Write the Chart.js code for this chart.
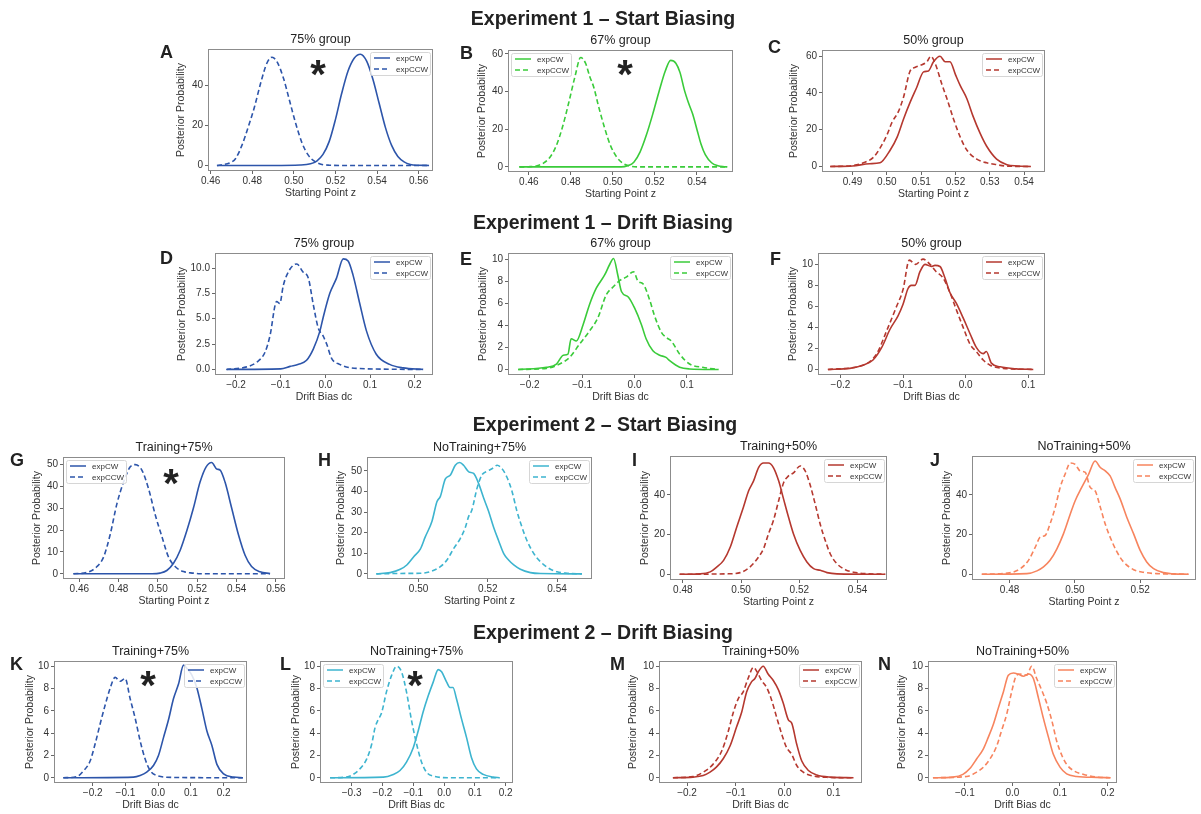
<!DOCTYPE html>
<html>
<head>
<meta charset="utf-8">
<script src="https://cdn.jsdelivr.net/npm/chart.js@4.4.0/dist/chart.umd.min.js"></script>
<style>
  html, body { margin: 0; padding: 0; background: #fff; overflow: hidden; }
  #fig { position: relative; width: 1201px; height: 814px; font-family: "Liberation Sans", Arial, sans-serif; color: #222; }
  #fig canvas { position: absolute; }
  .txt { position: absolute; line-height: 1; white-space: nowrap; }
</style>
</head>
<body>
<div id="fig"></div>
<script>
// ---- data (x = parameter value, y = posterior density) ----
// A: Exp 1 start bias, 75% group
const aCwX = [0.463, 0.490, 0.503, 0.508, 0.511, 0.514, 0.517, 0.520, 0.523, 0.526, 0.529, 0.532, 0.535, 0.538, 0.541, 0.544, 0.547, 0.550, 0.553, 0.556, 0.559, 0.565];
const aCwY = [0, 0, 0.2, 0.8, 2.2, 5.5, 12, 23, 36, 47, 53.5, 55.5, 52, 43, 31, 19, 10, 4.5, 1.8, 0.5, 0.1, 0];
const aCcwX = [0.463, 0.466, 0.469, 0.472, 0.475, 0.478, 0.481, 0.484, 0.487, 0.4895, 0.492, 0.495, 0.498, 0.501, 0.504, 0.507, 0.510, 0.513, 0.517, 0.522, 0.565];
const aCcwY = [0, 0.4, 1.2, 3.5, 10, 19, 29, 41, 51, 54, 51.5, 43.5, 32, 20.5, 11, 5, 2, 0.6, 0.1, 0, 0];
// B: Exp 1 start bias, 67% group
const bCwX = [0.4555, 0.504, 0.507, 0.510, 0.513, 0.516, 0.519, 0.522, 0.525, 0.5275, 0.530, 0.532, 0.534, 0.536, 0.538, 0.540, 0.542, 0.544, 0.547, 0.550, 0.553, 0.5545];
const bCwY = [0, 0, 0.6, 2.5, 8, 17, 28, 40, 51, 56.5, 55, 50, 41, 34, 28, 20, 12, 6.5, 2.2, 0.6, 0.1, 0];
const bCcwX = [0.4555, 0.460, 0.464, 0.467, 0.470, 0.473, 0.476, 0.479, 0.482, 0.4847, 0.487, 0.489, 0.491, 0.493, 0.496, 0.499, 0.502, 0.505, 0.508, 0.512, 0.5545];
const bCcwY = [0, 0.1, 0.6, 2, 5, 11, 21, 34, 48, 58, 55, 48, 42, 33, 21, 11, 5, 1.8, 0.5, 0, 0];
// C: Exp 1 start bias, 50% group
const cCwX = [0.4835, 0.490, 0.495, 0.498, 0.501, 0.503, 0.5049, 0.5068, 0.5087, 0.5107, 0.5121, 0.5136, 0.5155, 0.517, 0.5184, 0.520, 0.5214, 0.5233, 0.5252, 0.5272, 0.5291, 0.532, 0.535, 0.538, 0.542];
const cCwY = [0, 0.3, 1.5, 2, 9, 16, 26, 35, 43, 51.5, 52, 57, 60, 57, 57, 50, 44, 37, 27, 18, 11, 4, 1, 0.3, 0];
const cCcwX = [0.4835, 0.490, 0.4932, 0.4961, 0.498, 0.500, 0.5015, 0.5034, 0.5049, 0.5068, 0.5083, 0.5097, 0.5117, 0.5128, 0.5141, 0.516, 0.5175, 0.5194, 0.5214, 0.5233, 0.5262, 0.5291, 0.532, 0.535, 0.542];
const cCcwY = [0, 0.5, 2, 5, 10, 17, 24, 30, 38, 52, 54, 55, 57, 60, 56, 45, 37, 26, 16, 9, 4, 2, 1, 0.2, 0];
// D: Exp 1 drift bias, 75% group
const dCwX = [-0.22, -0.1, -0.079, -0.06, -0.042, -0.027, -0.012, -0.005, 0.01, 0.025, 0.04, 0.051, 0.062, 0.077, 0.092, 0.114, 0.144, 0.174, 0.219];
const dCwY = [0, 0.05, 0.3, 0.5, 0.9, 2.0, 3.8, 5.1, 7.5, 9, 10.9, 10.7, 9.3, 6.5, 3.8, 1.5, 0.5, 0.15, 0];
const dCcwX = [-0.222, -0.176, -0.154, -0.135, -0.124, -0.109, -0.102, -0.094, -0.079, -0.064, -0.05, -0.038, -0.027, -0.016, -0.005, 0.003, 0.014, 0.032, 0.07, 0.219];
const dCcwY = [0, 0.25, 0.7, 1.7, 3.3, 6.7, 6.5, 8.3, 9.9, 10.4, 9.6, 9.0, 6.4, 4.1, 3.3, 2.5, 1.1, 0.5, 0.1, 0];
// E: Exp 1 drift bias, 67% group
const eCwX = [-0.222, -0.168, -0.149, -0.136, -0.127, -0.121, -0.111, -0.098, -0.086, -0.073, -0.057, -0.047, -0.04, -0.032, -0.025, -0.012, 0.0, 0.013, 0.022, 0.035, 0.048, 0.06, 0.067, 0.086, 0.105, 0.16];
const eCwY = [0, 0.2, 0.5, 1.3, 1.4, 2.8, 2.6, 4.1, 5.9, 7.4, 8.6, 9.6, 10.1, 8.6, 7.1, 6.6, 5.6, 4.1, 2.8, 1.7, 1.3, 1.1, 0.8, 0.2, 0.05, 0];
const eCcwX = [-0.222, -0.168, -0.143, -0.124, -0.105, -0.086, -0.07, -0.054, -0.041, -0.028, -0.016, -0.002, 0.007, 0.016, 0.029, 0.038, 0.051, 0.061, 0.07, 0.086, 0.105, 0.13, 0.16];
const eCcwY = [0, 0.1, 0.5, 1.1, 2.3, 3.5, 4.7, 6.8, 7.5, 8.1, 8.4, 8.9, 8.0, 7.8, 6.3, 4.9, 3.4, 2.9, 2.6, 1.4, 0.5, 0.2, 0];
// F: Exp 1 drift bias, 50% group
const fCwX = [-0.22, -0.185, -0.164, -0.148, -0.134, -0.121, -0.108, -0.1, -0.092, -0.087, -0.081, -0.073, -0.065, -0.055, -0.049, -0.041, -0.033, -0.025, -0.015, -0.004, 0.007, 0.017, 0.028, 0.033, 0.041, 0.055, 0.081, 0.108];
const fCwY = [0, 0.1, 0.4, 0.9, 2.1, 3.8, 5.1, 6.2, 7.7, 8.0, 8.0, 9.3, 10.0, 9.8, 9.9, 9.8, 8.7, 7.3, 6.3, 4.9, 3.4, 2.1, 1.5, 1.7, 0.6, 0.25, 0.05, 0];
const fCcwX = [-0.22, -0.164, -0.142, -0.126, -0.111, -0.1, -0.09, -0.08, -0.068, -0.057, -0.047, -0.036, -0.025, -0.015, -0.004, 0.007, 0.017, 0.028, 0.039, 0.06, 0.108];
const fCcwY = [0, 0.4, 1.5, 3.7, 5.9, 7.6, 10.4, 10.0, 10.5, 10.0, 9.3, 8.7, 7.3, 5.7, 4.0, 2.4, 1.7, 0.9, 0.4, 0.1, 0];
// G: Exp 2 start bias, Training+75%
const gCwX = [0.457, 0.497, 0.5011, 0.5045, 0.5079, 0.5113, 0.5147, 0.518, 0.5214, 0.5245, 0.5273, 0.5299, 0.5316, 0.5341, 0.5375, 0.5409, 0.5443, 0.5476, 0.5519, 0.557];
const gCwY = [0, 0, 0.3, 1.5, 4.8, 10.8, 19.8, 30, 42, 49, 51, 48, 47.5, 42, 30, 18, 8.5, 3.3, 0.9, 0.1];
const gCcwX = [0.457, 0.4639, 0.469, 0.4724, 0.4757, 0.4791, 0.4825, 0.4859, 0.4884, 0.4918, 0.4952, 0.4986, 0.502, 0.5053, 0.5087, 0.513, 0.518, 0.5214, 0.557];
const gCcwY = [0, 0.6, 3.3, 7.8, 18, 32, 42, 49, 50, 47.5, 39, 27, 17, 7.8, 3.3, 1, 0.3, 0, 0];
// H: Exp 2 start bias, NoTraining+75%
const hCwX = [0.4878, 0.4918, 0.4947, 0.4966, 0.4986, 0.5005, 0.5019, 0.5039, 0.5053, 0.5063, 0.5077, 0.5092, 0.5106, 0.5119, 0.513, 0.5145, 0.5159, 0.5173, 0.5188, 0.5202, 0.5217, 0.5231, 0.5246, 0.526, 0.5275, 0.5294, 0.5323, 0.5352, 0.5472];
const hCwY = [0, 0.6, 2.2, 4.3, 8.3, 12, 17.8, 25.7, 35, 37.6, 46, 48, 52.7, 54, 52.7, 49.5, 48.7, 44, 36.8, 30.5, 22.5, 16.2, 9.8, 6.7, 4.3, 2.2, 0.6, 0.15, 0];
const hCcwX = [0.4878, 0.4947, 0.5005, 0.5034, 0.5063, 0.5082, 0.5101, 0.512, 0.5135, 0.5145, 0.5154, 0.5169, 0.5183, 0.5198, 0.5212, 0.5227, 0.5241, 0.5255, 0.527, 0.5284, 0.5299, 0.5313, 0.5333, 0.5352, 0.5376, 0.54, 0.5429, 0.5472];
const hCcwY = [0, 0.2, 0.3, 1.1, 3.5, 6.7, 12.2, 17, 22.5, 28, 31, 41.6, 48, 49.8, 51, 52.7, 51, 47, 40, 30.5, 22.5, 16.2, 9.8, 5.9, 2.7, 1, 0.3, 0];
// I: Exp 2 start bias, Training+50%
const iCwX = [0.4789, 0.486, 0.4894, 0.4917, 0.494, 0.4963, 0.4985, 0.5008, 0.5026, 0.5043, 0.506, 0.5077, 0.5094, 0.5111, 0.5129, 0.5146, 0.5163, 0.518, 0.5203, 0.5226, 0.5249, 0.5272, 0.5295, 0.5329, 0.5495];
const iCwY = [0, 0.2, 1.2, 3.7, 7, 13.7, 23.7, 33.7, 42, 47, 53.7, 56, 56, 53.7, 47, 37.8, 28.7, 20.3, 12, 6.2, 2.8, 2, 0.8, 0.2, 0];
const iCcwX = [0.4789, 0.4951, 0.4997, 0.5031, 0.506, 0.5077, 0.5094, 0.5111, 0.5129, 0.5146, 0.5163, 0.518, 0.5203, 0.522, 0.5237, 0.5255, 0.5272, 0.5289, 0.5306, 0.5329, 0.5358, 0.5386, 0.5432, 0.5495];
const iCcwY = [0, 0.2, 0.8, 3.7, 8.7, 12.8, 20.3, 27, 37, 46, 49.5, 51, 54.5, 52, 45, 35, 25, 17, 10.3, 5.3, 2.3, 1, 0.3, 0];
// J: Exp 2 start bias, NoTraining+50%
const jCwX = [0.4715, 0.4853, 0.4884, 0.4904, 0.4924, 0.4945, 0.4965, 0.4986, 0.5001, 0.5021, 0.5042, 0.5062, 0.5078, 0.5093, 0.5108, 0.5123, 0.5139, 0.5159, 0.518, 0.52, 0.522, 0.5241, 0.5271, 0.5302, 0.5348];
const jCwY = [0, 0.3, 1.7, 3.7, 7, 12.8, 20.3, 30.3, 37, 43.7, 50.3, 57, 53.7, 52, 49.5, 43.7, 37.8, 28.7, 20.3, 12, 6.2, 2.8, 0.8, 0.2, 0];
const jCcwX = [0.4715, 0.48, 0.4833, 0.4858, 0.4879, 0.4894, 0.4909, 0.4924, 0.494, 0.4955, 0.497, 0.4986, 0.5001, 0.5016, 0.5032, 0.5047, 0.5062, 0.5078, 0.5093, 0.5108, 0.5129, 0.5149, 0.518, 0.521, 0.5251, 0.5348];
const jCcwY = [0, 0.7, 2.8, 7, 13.7, 18.7, 19.5, 25.3, 33.7, 43.7, 50.3, 56, 55.3, 52, 51.2, 43.7, 42, 33.7, 25.3, 18.7, 11.2, 6.2, 2.3, 1, 0.3, 0];
// K: Exp 2 drift bias, Training+75%
const kCwX = [-0.29, -0.0755, -0.055, -0.035, -0.0143, 0.001, 0.0163, 0.0316, 0.047, 0.0622, 0.0776, 0.0878, 0.103, 0.118, 0.1337, 0.149, 0.1643, 0.1796, 0.2, 0.2306, 0.259];
const kCwY = [0, 0.06, 0.2, 0.5, 1.1, 2.0, 3.6, 5.2, 7.1, 8.4, 10.1, 9.8, 9.2, 8.1, 6.2, 4.2, 2.9, 1.2, 0.35, 0.06, 0];
const kCcwX = [-0.29, -0.249, -0.2286, -0.208, -0.193, -0.1776, -0.1622, -0.147, -0.1316, -0.1163, -0.101, -0.0857, -0.0704, -0.055, -0.04, -0.0245, -0.004, 0.047, 0.259];
const kCcwY = [0, 0.1, 0.6, 1.5, 3.0, 4.8, 6.5, 8.0, 9.0, 8.65, 8.9, 7.1, 5.35, 3.3, 1.7, 0.65, 0.2, 0.03, 0];
// L: Exp 2 drift bias, NoTraining+75%
const lCwX = [-0.37, -0.197, -0.165, -0.143, -0.122, -0.1, -0.084, -0.068, -0.052, -0.035, -0.019, -0.008, 0.008, 0.019, 0.029, 0.04, 0.056, 0.073, 0.089, 0.105, 0.127, 0.159, 0.18];
const lCwY = [0, 0.06, 0.3, 0.65, 1.4, 2.7, 4.2, 5.9, 7.3, 8.6, 9.7, 9.5, 8.6, 8.1, 8.1, 7.1, 5.35, 3.6, 1.8, 0.8, 0.3, 0.06, 0];
const lCcwX = [-0.37, -0.316, -0.295, -0.273, -0.251, -0.235, -0.224, -0.214, -0.203, -0.187, -0.17, -0.154, -0.138, -0.122, -0.106, -0.089, -0.073, -0.057, -0.035, 0.019, 0.18];
const lCcwY = [0, 0.06, 0.3, 0.8, 1.7, 3.0, 4.5, 5.2, 5.8, 7.7, 9.2, 10.0, 9.5, 7.7, 5.2, 3.0, 1.4, 0.5, 0.15, 0, 0];
// M: Exp 2 drift bias, Training+50%
const mCwX = [-0.229, -0.188, -0.167, -0.153, -0.14, -0.126, -0.112, -0.099, -0.088, -0.078, -0.068, -0.061, -0.054, -0.044, -0.034, -0.023, -0.013, -0.003, 0.0075, 0.0144, 0.0247, 0.035, 0.0486, 0.0658, 0.0932, 0.141];
const mCwY = [0, 0.06, 0.2, 0.5, 0.95, 1.7, 2.85, 4.5, 5.9, 7.7, 8.6, 8.9, 9.5, 10.0, 9.3, 8.7, 7.9, 6.7, 5.2, 4.9, 3.0, 1.5, 0.65, 0.25, 0.06, 0];
const mCcwX = [-0.229, -0.188, -0.167, -0.147, -0.129, -0.116, -0.105, -0.095, -0.085, -0.075, -0.064, -0.058, -0.047, -0.037, -0.027, -0.016, -0.006, 0.004, 0.0144, 0.0247, 0.038, 0.059, 0.093, 0.141];
const mCcwY = [0, 0.1, 0.5, 1.2, 2.4, 4.1, 5.9, 7.1, 7.7, 8.9, 9.9, 9.6, 8.7, 8.1, 7.0, 5.35, 3.9, 2.7, 2.1, 1.1, 0.5, 0.15, 0.03, 0];
// N: Exp 2 drift bias, NoTraining+50%
const nCwX = [-0.167, -0.125, -0.104, -0.09, -0.075, -0.061, -0.051, -0.04, -0.03, -0.019, -0.0086, 0.002, 0.012, 0.023, 0.034, 0.044, 0.055, 0.065, 0.076, 0.086, 0.1, 0.114, 0.135, 0.178, 0.206];
const nCwY = [0, 0.06, 0.3, 0.8, 1.7, 2.6, 3.6, 4.8, 6.2, 7.7, 9.2, 9.4, 9.3, 9.1, 9.3, 8.9, 7.1, 5.35, 3.6, 2.1, 0.95, 0.35, 0.12, 0.03, 0];
const nCcwX = [-0.167, -0.096, -0.075, -0.061, -0.047, -0.033, -0.023, -0.012, -0.0016, 0.009, 0.019, 0.03, 0.0406, 0.051, 0.0616, 0.072, 0.083, 0.093, 0.104, 0.114, 0.128, 0.15, 0.178, 0.206];
const nCcwY = [0, 0.12, 0.5, 0.95, 1.7, 2.85, 4.2, 5.7, 7.7, 9.2, 9.3, 9.2, 10.0, 8.9, 7.85, 6.7, 5.1, 3.3, 2.0, 1.2, 0.65, 0.3, 0.06, 0];

// tick labels
const startTicks75 = [0.46, 0.48, 0.50, 0.52, 0.54, 0.56];
const bXTicks = [0.46, 0.48, 0.50, 0.52, 0.54];
const cXTicks = [0.49, 0.50, 0.51, 0.52, 0.53, 0.54];
const hXTicks = [0.50, 0.52, 0.54];
const iXTicks = [0.48, 0.50, 0.52, 0.54];
const jXTicks = [0.48, 0.50, 0.52];
const driftTicksWide = [-0.2, -0.1, 0.0, 0.1, 0.2];
const driftTicksLeft = [-0.2, -0.1, 0.0, 0.1];
const lXTicks = [-0.3, -0.2, -0.1, 0.0, 0.1, 0.2];
const nXTicks = [-0.1, 0.0, 0.1, 0.2];
const yTicks0to40 = [0, 20, 40];
const yTicks0to60 = [0, 20, 40, 60];
const yTicks0to50 = [0, 10, 20, 30, 40, 50];
const dYTicks = [0, 2.5, 5.0, 7.5, 10.0];
const yTicks0to10 = [0, 2, 4, 6, 8, 10];

const BLUE = '#2d55aa', GREEN = '#3acb3a', RED = '#b5382f', CYAN = '#3db4cf', SALMON = '#f7845e';
const FONT = '"Liberation Sans", Arial, sans-serif';
Chart.defaults.font.family = FONT;

const SZ = 'Starting Point z', DB = 'Drift Bias dc';
// box = plot frame [left, top, right, bottom] in page pixels, yo = y-label distance from frame
const panels = [
  { tag: 'A', title: '75% group', box: [208, 47, 433, 171], yo: 27, letter: [160, 45], star: [318, 66], xr: [0.4587, 0.5669], yr: [-2.78, 58.1], xt: startTicks75, yt: yTicks0to40, xd: 2, yd: 0, xl: SZ, c: BLUE, cw: [aCwX, aCwY], ccw: [aCcwX, aCcwY], leg: 'right' },
  { tag: 'B', title: '67% group', box: [508, 48, 733, 172], yo: 26, letter: [460, 46], star: [625, 66], xr: [0.4501, 0.5572], yr: [-2.7, 62], xt: bXTicks, yt: yTicks0to60, xd: 2, yd: 0, xl: SZ, c: GREEN, cw: [bCwX, bCwY], ccw: [bCcwX, bCcwY], leg: 'left' },
  { tag: 'C', title: '50% group', box: [822, 48, 1045, 172], yo: 28, letter: [768, 40], xr: [0.4811, 0.5461], yr: [-3, 63.4], xt: cXTicks, yt: yTicks0to60, xd: 2, yd: 0, xl: SZ, c: RED, cw: [cCwX, cCwY], ccw: [cCcwX, cCcwY], leg: 'right' },
  { tag: 'D', title: '75% group', box: [215, 251, 433, 375], yo: 33, letter: [160, 251], xr: [-0.247, 0.241], yr: [-0.55, 11.48], xt: driftTicksWide, yt: dYTicks, xd: 1, yd: 1, xl: DB, c: BLUE, cw: [dCwX, dCwY], ccw: [dCcwX, dCcwY], leg: 'right' },
  { tag: 'E', title: '67% group', box: [508, 251, 733, 375], yo: 25, letter: [460, 252], xr: [-0.2414, 0.1878], yr: [-0.5, 10.6], xt: driftTicksLeft, yt: yTicks0to10, xd: 1, yd: 0, xl: DB, c: GREEN, cw: [eCwX, eCwY], ccw: [eCcwX, eCcwY], leg: 'right' },
  { tag: 'F', title: '50% group', box: [818, 251, 1045, 375], yo: 25, letter: [770, 252], xr: [-0.2358, 0.1267], yr: [-0.53, 11.08], xt: driftTicksLeft, yt: yTicks0to10, xd: 1, yd: 0, xl: DB, c: RED, cw: [fCwX, fCwY], ccw: [fCcwX, fCcwY], leg: 'right' },
  { tag: 'G', title: 'Training+75%', box: [63, 455, 285, 579], yo: 26, letter: [10, 453], star: [171, 475], xr: [0.4517, 0.5646], yr: [-2.4, 53.5], xt: startTicks75, yt: yTicks0to50, xd: 2, yd: 0, xl: SZ, c: BLUE, cw: [gCwX, gCwY], ccw: [gCcwX, gCcwY], leg: 'left' },
  { tag: 'H', title: 'NoTraining+75%', box: [367, 455, 592, 579], yo: 26, letter: [318, 453], xr: [0.4851, 0.5501], yr: [-2.5, 56.7], xt: hXTicks, yt: yTicks0to50, xd: 2, yd: 0, xl: SZ, c: CYAN, cw: [hCwX, hCwY], ccw: [hCcwX, hCcwY], leg: 'right' },
  { tag: 'I', title: 'Training+50%', box: [670, 454, 887, 580], yo: 25, letter: [632, 453], xr: [0.4756, 0.5501], yr: [-2.9, 59.5], xt: iXTicks, yt: yTicks0to40, xd: 2, yd: 0, xl: SZ, c: RED, cw: [iCwX, iCwY], ccw: [iCcwX, iCcwY], leg: 'right' },
  { tag: 'J', title: 'NoTraining+50%', box: [972, 454, 1196, 580], yo: 25, letter: [930, 453], xr: [0.4685, 0.5371], yr: [-2.9, 59.5], xt: jXTicks, yt: yTicks0to40, xd: 2, yd: 0, xl: SZ, c: SALMON, cw: [jCwX, jCwY], ccw: [jCcwX, jCcwY], leg: 'right' },
  { tag: 'K', title: 'Training+75%', box: [54, 659, 247, 783], yo: 24, letter: [10, 657], star: [148, 677], xr: [-0.3184, 0.2716], yr: [-0.47, 10.47], xt: driftTicksWide, yt: yTicks0to10, xd: 1, yd: 0, xl: DB, c: BLUE, cw: [kCwX, kCwY], ccw: [kCcwX, kCcwY], leg: 'right' },
  { tag: 'L', title: 'NoTraining+75%', box: [320, 659, 513, 783], yo: 24, letter: [280, 657], star: [415, 677], xr: [-0.4027, 0.2237], yr: [-0.47, 10.47], xt: lXTicks, yt: yTicks0to10, xd: 1, yd: 0, xl: DB, c: CYAN, cw: [lCwX, lCwY], ccw: [lCcwX, lCcwY], leg: 'left' },
  { tag: 'M', title: 'Training+50%', box: [659, 659, 862, 783], yo: 26, letter: [610, 657], xr: [-0.2575, 0.1584], yr: [-0.47, 10.47], xt: driftTicksLeft, yt: yTicks0to10, xd: 1, yd: 0, xl: DB, c: RED, cw: [mCwX, mCwY], ccw: [mCcwX, mCcwY], leg: 'right' },
  { tag: 'N', title: 'NoTraining+50%', box: [928, 659, 1117, 783], yo: 26, letter: [878, 657], xr: [-0.1774, 0.2198], yr: [-0.47, 10.47], xt: nXTicks, yt: yTicks0to10, xd: 1, yd: 0, xl: DB, c: SALMON, cw: [nCwX, nCwY], ccw: [nCcwX, nCcwY], leg: 'right' }
];

const headings = [
  ['Experiment 1 \u2013 Start Biasing', 603, 19],
  ['Experiment 1 \u2013 Drift Biasing', 603, 223],
  ['Experiment 2 \u2013 Start Biasing', 605, 425],
  ['Experiment 2 \u2013 Drift Biasing', 603, 633]
];

const fig = document.getElementById('fig');

function addText(text, x, y, size, weight, center) {
  const d = document.createElement('div');
  d.className = 'txt';
  d.textContent = text;
  d.style.fontSize = size + 'px';
  d.style.fontWeight = weight;
  d.style.left = x + 'px';
  d.style.top = y + 'px';
  if (center) d.style.transform = 'translateX(-50%)';
  fig.appendChild(d);
  return d;
}

const pts = (xs, ys) => xs.map((x, i) => ({ x, y: ys[i] }));
const fmt = d => v => v.toFixed(d).replace('-', '\u2212');

// plot frame on all four sides
const framePlugin = {
  id: 'frame',
  beforeDatasetsDraw(chart) {
    const { ctx, chartArea: a } = chart;
    ctx.save();
    ctx.strokeStyle = '#8c8c8c';
    ctx.lineWidth = 1;
    ctx.strokeRect(a.left + 0.5, a.top + 0.5, a.width - 1, a.height - 1);
    ctx.restore();
  }
};

// matplotlib-style legend box inside the axes
const boxLegend = {
  id: 'boxLegend',
  afterDatasetsDraw(chart, args, opts) {
    const { ctx, chartArea: a } = chart;
    const w = 60, h = 23;
    const x = opts.side === 'left' ? a.left + 3 : a.right - w - 3;
    const y = a.top + 3;
    ctx.save();
    ctx.fillStyle = 'rgba(255,255,255,0.85)';
    ctx.strokeStyle = '#d6d6d6';
    ctx.lineWidth = 1;
    ctx.beginPath();
    ctx.roundRect(x + 0.5, y + 0.5, w, h, 2);
    ctx.fill();
    ctx.stroke();
    chart.data.datasets.forEach((ds, i) => {
      const ly = y + 6 + i * 11;
      ctx.strokeStyle = ds.borderColor;
      ctx.lineWidth = 1.5;
      ctx.setLineDash(ds.borderDash || []);
      ctx.beginPath();
      ctx.moveTo(x + 4, ly);
      ctx.lineTo(x + 20, ly);
      ctx.stroke();
      ctx.setLineDash([]);
      ctx.fillStyle = '#333';
      ctx.font = '8px ' + FONT;
      ctx.textBaseline = 'middle';
      ctx.fillText(ds.label, x + 26, ly + 0.5);
    });
    ctx.restore();
  }
};

const PAD_L = 45, PAD_T = 6, PAD_R = 10, X_H = 30;

panels.forEach(p => {
  const [l, t, r, b] = p.box;
  const cv = document.createElement('canvas');
  const w = r - l + PAD_L + PAD_R, h = b - t + PAD_T + X_H;
  cv.width = w; cv.height = h;
  cv.style.left = (l - PAD_L) + 'px';
  cv.style.top = (t - PAD_T) + 'px';
  cv.style.width = w + 'px';
  cv.style.height = h + 'px';
  fig.appendChild(cv);

  const line = { borderColor: p.c, borderWidth: 1.6, pointRadius: 0, fill: false, tension: 0.4, cubicInterpolationMode: 'monotone' };
  new Chart(cv, {
    type: 'line',
    data: {
      datasets: [
        Object.assign({ label: 'expCW', data: pts(p.cw[0], p.cw[1]) }, line),
        Object.assign({ label: 'expCCW', data: pts(p.ccw[0], p.ccw[1]), borderDash: [5, 3] }, line)
      ]
    },
    options: {
      responsive: false,
      animation: false,
      devicePixelRatio: 1,
      layout: { padding: { left: 0, top: PAD_T, right: PAD_R, bottom: 0 } },
      plugins: { legend: { display: false }, tooltip: { enabled: false }, boxLegend: { side: p.leg } },
      scales: {
        x: {
          type: 'linear', min: p.xr[0], max: p.xr[1],
          afterBuildTicks: ax => { ax.ticks = p.xt.map(v => ({ value: v })); },
          afterFit: ax => { ax.height = X_H; },
          ticks: { callback: fmt(p.xd), color: '#333', font: { size: 10 }, padding: 1, autoSkip: false, maxRotation: 0 },
          grid: { drawOnChartArea: false, drawTicks: true, tickLength: 3, color: '#666' },
          border: { display: false },
          title: { display: true, text: p.xl, color: '#333', font: { size: 10.5 }, padding: { top: 0, bottom: 2 } }
        },
        y: {
          type: 'linear', min: p.yr[0], max: p.yr[1],
          afterBuildTicks: ax => { ax.ticks = p.yt.map(v => ({ value: v })); },
          afterFit: ax => { ax.width = PAD_L; },
          ticks: { callback: fmt(p.yd), color: '#333', font: { size: 10 }, padding: 2, autoSkip: false },
          grid: { drawOnChartArea: false, drawTicks: true, tickLength: 3, color: '#666' },
          border: { display: false },
          title: { display: true, text: 'Posterior Probability', color: '#333', font: { size: 10.5 }, padding: { top: Math.max(0, 38.7 - p.yo), bottom: 0 } }
        }
      }
    },
    plugins: [framePlugin, boxLegend]
  });

  // panel title, letter, significance star
  addText(p.title, (l + r) / 2, t - 8 - 0.49 * 12.5, 12.5, 'normal', true);
  addText(p.tag, p.letter[0], p.letter[1] - 0.13 * 18, 18, 'bold', false);
  if (p.star) addText('*', p.star[0], p.star[1] - 0.29 * 40, 40, 'bold', true);
});

headings.forEach(([txt, cx, cy]) => addText(txt, cx, cy - 0.49 * 19.5, 19.5, 'bold', true));
</script>
</body>
</html>
